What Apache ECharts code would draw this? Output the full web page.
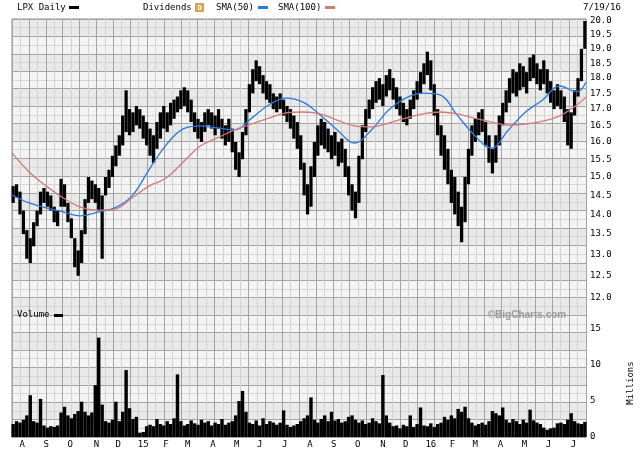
<!DOCTYPE html>
<html><head><meta charset="utf-8">
<script src="https://cdn.jsdelivr.net/npm/echarts@6/dist/echarts.min.js"></script>
<style>html,body{margin:0;padding:0;background:#fff}#c{width:640px;height:453px}</style>
</head><body><div id="c"></div>
<script>
// ---- data ----
const monthDays = [9,30,51,74,93,115,135,154,176,197,217,239,261,282,303,325,345,367,386,406,428,449,470,492];
const monthLabels = ['A','S','O','N','D','15','F','M','A','M','J','J','A','S','O','N','D','16','F','M','A','M','J','J'];
const priceTicks = [12,12.5,13,13.5,14,14.5,15,15.5,16,16.5,17,17.5,18,18.5,19,19.5,20];
const volumeTicks = [0,5,10,15];
const barDays = 3; // trading days per drawn bar
const priceHigh = [
14.75,14.8,14.6,14.1,13.6,13.4,13.8,14.1,14.6,14.7,
14.6,14.5,14.2,14.1,14.95,14.8,14.3,13.9,13.4,13.1,
13.6,14.4,15.0,14.9,14.8,14.7,14.5,15.0,15.2,15.6,
15.9,16.2,16.8,17.6,17.0,16.9,17.1,17.0,16.8,16.6,
16.4,16.2,16.6,16.9,17.1,16.9,17.2,17.3,17.4,17.6,
17.7,17.6,17.3,16.9,16.7,16.6,16.9,17.0,16.9,16.8,
17.0,16.7,16.5,16.7,16.4,16.0,15.7,16.3,17.0,17.8,
18.3,18.6,18.4,18.1,17.9,17.8,17.5,17.4,17.5,17.3,
17.1,17.0,16.8,16.6,16.2,15.4,14.8,15.3,16.0,16.5,
16.7,16.6,16.4,16.2,16.3,16.0,16.1,15.8,15.3,14.8,
14.6,15.6,16.5,17.0,17.3,17.7,17.9,18.0,17.8,18.1,
18.3,18.0,17.7,17.4,17.2,17.0,17.3,17.6,17.9,18.2,
18.5,18.9,18.6,17.8,17.0,16.5,16.2,15.8,15.2,15.0,
14.6,14.2,15.0,15.8,16.5,16.7,16.9,17.0,16.6,16.2,
15.8,16.2,16.8,17.2,17.6,18.0,18.3,18.2,18.5,18.4,
18.2,18.7,18.8,18.5,18.3,18.6,18.3,17.9,17.6,17.8,
17.6,17.4,17.0,16.9,17.6,18.0,19.0,20.0];
const priceLow = [
14.3,14.45,14.0,13.5,12.9,12.8,13.2,13.7,14.0,14.3,
14.2,14.1,13.8,13.7,14.2,14.2,13.8,13.4,12.7,12.5,
12.8,13.5,14.3,14.4,14.3,14.1,12.9,14.5,14.7,15.0,
15.3,15.6,15.9,16.3,16.2,16.3,16.5,16.4,16.1,15.9,
15.6,15.4,15.8,16.1,16.4,16.3,16.5,16.7,16.9,17.0,
17.1,16.9,16.6,16.3,16.1,16.0,16.3,16.5,16.4,16.2,
16.4,16.1,15.9,16.0,15.7,15.2,15.0,15.5,16.2,16.9,
17.5,17.9,17.8,17.5,17.3,17.2,17.0,16.9,17.0,16.8,
16.6,16.4,16.1,15.8,15.2,14.5,14.0,14.2,15.0,15.6,
15.9,15.8,15.7,15.5,15.6,15.3,15.4,15.0,14.5,14.1,
13.9,14.3,15.5,16.3,16.7,17.0,17.2,17.3,17.1,17.4,
17.6,17.3,17.0,16.8,16.6,16.5,16.7,17.0,17.3,17.5,
17.8,18.1,17.6,16.8,16.2,15.6,15.2,14.8,14.3,14.0,
13.7,13.3,13.8,14.8,15.6,16.0,16.2,16.3,15.9,15.4,
15.1,15.4,15.9,16.5,16.9,17.2,17.5,17.4,17.6,17.7,
17.5,17.9,18.0,17.8,17.6,17.8,17.5,17.2,17.0,17.1,
17.0,16.6,15.9,15.8,16.8,17.4,17.9,19.0];
const volume = [
1.8,2.2,2.0,2.4,3.0,5.8,2.2,2.0,5.3,1.6,
1.3,1.5,1.4,1.6,3.4,4.2,3.0,2.6,3.2,3.6,
4.9,3.5,3.0,3.4,7.2,13.8,4.5,2.2,2.0,2.4,
4.9,2.2,3.5,9.3,4.0,2.5,2.8,0.6,0.7,1.5,
1.7,1.5,2.5,1.8,1.6,2.2,1.8,2.6,8.7,2.2,
1.6,1.8,2.3,1.9,1.7,2.4,2.0,2.2,1.6,2.0,
1.8,2.5,1.7,2.0,2.2,3.0,5.0,6.4,3.5,2.0,
1.8,2.3,1.6,2.6,1.8,2.2,2.0,1.7,2.0,3.7,
1.7,1.4,1.6,1.8,2.2,2.6,3.0,5.5,2.4,2.0,
2.5,3.0,2.2,3.5,2.3,2.5,2.0,2.2,2.8,3.0,
2.4,2.0,2.3,1.8,2.0,2.6,2.2,1.9,8.6,3.0,
2.0,1.5,1.6,1.2,1.7,1.5,3.0,1.4,1.8,4.1,
1.6,1.5,1.9,1.4,1.8,2.0,2.8,2.4,3.0,2.6,
3.9,3.5,4.2,2.6,2.0,1.6,1.8,2.0,1.7,2.2,
3.6,3.3,3.0,4.1,2.4,2.0,2.5,2.2,1.8,2.4,
2.0,3.8,2.3,2.0,1.8,1.3,1.0,1.2,1.3,1.9,
2.0,1.8,2.4,3.3,2.2,1.9,1.8,2.1];
const smaDays = [0,15,30,45,60,75,90,105,120,135,150,165,180,195,210,225,240,255,270,285,300,315,330,345,360,375,390,405,420,435,450,465,480,495,503];
const sma50 = [14.51,14.30,14.17,14.06,13.96,14.06,14.17,14.48,15.20,15.91,16.39,16.48,16.42,16.36,16.72,17.13,17.35,17.22,16.82,16.36,15.97,16.36,16.97,17.35,17.51,17.45,16.82,16.21,15.82,16.36,16.91,17.29,17.74,17.55,17.87];
const sma100 = [15.68,15.14,14.75,14.43,14.19,14.11,14.14,14.43,14.75,14.97,15.42,15.88,16.12,16.36,16.54,16.72,16.88,16.91,16.85,16.66,16.48,16.45,16.57,16.72,16.85,16.91,16.85,16.72,16.60,16.51,16.54,16.63,16.79,17.13,17.38];

// ---- chart ----
const FONT = 'DejaVu Sans Mono';
const L = 12, W = 574;
const chart = echarts.init(document.getElementById('c'), null, {renderer:'canvas'});

const priceData = priceHigh.map((h, k) => [k * barDays + 1, h, priceLow[k]]);
const volData = volume.map((v, k) => [k * barDays + 1, v]);

function barRender(isVol, frac) {
  return function (params, api) {
    const x = api.value(0);
    const top = api.value(1);
    const bot = isVol ? 0 : api.value(2);
    const pL = api.coord([x - barDays * frac / 2, top]);
    const pR = api.coord([x + barDays * frac / 2, bot]);
    return {
      type: 'rect',
      shape: {x: pL[0], y: pL[1], width: pR[0] - pL[0], height: Math.max(1, pR[1] - pL[1])},
      style: {fill: '#000'}
    };
  };
}

const hidden = {axisLine:{show:false}, axisTick:{show:false}, axisLabel:{show:false}, splitLine:{show:false}};

const option = {
  animation: false,
  backgroundColor: '#fff',
  grid: [
    {left: L, width: W, top: 19, height: 418, show: true, borderColor: '#8c8c8c', borderWidth: 1, backgroundColor: '#eeeeee'},
    {left: L, width: W, top: 21, height: 277},
    {left: L, width: W, top: 311, height: 126}
  ],
  xAxis: [
    {gridIndex: 0, type: 'value', min: 0, max: 34, interval: 1,
     axisLine:{show:false}, axisTick:{show:false}, axisLabel:{show:false},
     splitLine:{show:true, lineStyle:{color:'#a3a3a3', width:1}},
     minorTick:{show:false, splitNumber:2},
     minorSplitLine:{show:true, lineStyle:{color:'#d2d2d2', width:1}}},
    Object.assign({gridIndex: 1, type: 'value', min: 0, max: 503}, hidden),
    {gridIndex: 2, type: 'value', min: 0, max: 503,
     axisLine:{show:false}, splitLine:{show:false},
     axisTick:{show:false},
     axisLabel:{show:true, customValues: monthDays, margin: 3,
       formatter: v => monthLabels[monthDays.indexOf(v)] || '',
       fontFamily: FONT, fontSize: 9, color: '#000'}}
  ],
  yAxis: [
    {gridIndex: 0, type: 'value', min: 0, max: 24, interval: 1,
     axisLine:{show:false}, axisTick:{show:false}, axisLabel:{show:false},
     splitLine:{show:true, lineStyle:{color:'#a3a3a3', width:1}},
     minorTick:{show:false, splitNumber:2},
     minorSplitLine:{show:true, lineStyle:{color:'#d6d6d6', width:1}},
     splitArea:{show:true, areaStyle:{color:['#f4f4f4','#e9e9e9']}}},
    {gridIndex: 1, type: 'log', logBase: 10, min: 12, max: 20, position: 'right',
     axisLine:{show:false}, splitLine:{show:false},
     axisTick:{show:false, customValues: priceTicks},
     axisLabel:{show:true, customValues: priceTicks, margin: 4,
       formatter: v => Number(v).toFixed(1), fontFamily: FONT, fontSize: 9, color: '#000'}},
    {gridIndex: 2, type: 'value', min: 0, max: 17.5, position: 'right',
     axisLine:{show:false}, splitLine:{show:false},
     axisTick:{show:false, customValues: volumeTicks},
     axisLabel:{show:true, customValues: volumeTicks, margin: 4,
       formatter: v => String(v), fontFamily: FONT, fontSize: 9, color: '#000'}}
  ],
  series: [
    {type: 'custom', name: 'LPX Daily', xAxisIndex: 1, yAxisIndex: 1, renderItem: barRender(false, 0.95), data: priceData, z: 3},
    {type: 'line', name: 'SMA(50)', xAxisIndex: 1, yAxisIndex: 1, data: smaDays.map((d, i) => [d, sma50[i]]),
     symbol: 'none', smooth: 0.4, lineStyle:{color:'#2a78e4', width:1.3}, z: 4},
    {type: 'line', name: 'SMA(100)', xAxisIndex: 1, yAxisIndex: 1, data: smaDays.map((d, i) => [d, sma100[i]]),
     symbol: 'none', smooth: 0.4, lineStyle:{color:'#d47a7a', width:1.3}, z: 4},
    {type: 'custom', name: 'Volume', xAxisIndex: 2, yAxisIndex: 2, renderItem: barRender(true, 1), data: volData, z: 3}
  ],
  graphic: [
    {type:'text', x:17, y:8, style:{text:'LPX Daily', font:'9px ' + FONT, fill:'#000', verticalAlign:'middle'}},
    {type:'rect', shape:{x:69, y:6, width:10, height:3}, style:{fill:'#000'}},
    {type:'text', x:143, y:8, style:{text:'Dividends', font:'9px ' + FONT, fill:'#000', verticalAlign:'middle'}},
    {type:'rect', shape:{x:195, y:3, width:9, height:9}, style:{fill:'#d9a441'}},
    {type:'text', x:199.5, y:8, style:{text:'D', font:'bold 7px ' + FONT, fill:'#fff', align:'center', verticalAlign:'middle'}},
    {type:'text', x:216, y:8, style:{text:'SMA(50)', font:'9px ' + FONT, fill:'#000', verticalAlign:'middle'}},
    {type:'rect', shape:{x:258, y:6, width:10, height:3}, style:{fill:'#2a78e4'}},
    {type:'text', x:278, y:8, style:{text:'SMA(100)', font:'9px ' + FONT, fill:'#000', verticalAlign:'middle'}},
    {type:'rect', shape:{x:325, y:6, width:10, height:3}, style:{fill:'#d47a7a'}},
    {type:'text', x:583, y:8, style:{text:'7/19/16', font:'9px ' + FONT, fill:'#000', verticalAlign:'middle'}},
    {type:'text', x:17, y:315, z: 10, style:{text:'Volume', font:'9px ' + FONT, fill:'#000', verticalAlign:'middle'}},
    {type:'rect', shape:{x:54, y:314, width:9, height:3}, z: 10, style:{fill:'#000'}},
    {type:'text', x:527, y:315, z: 10, style:{text:'\u00A9BigCharts.com', font:'bold 10px Liberation Sans', fill:'#9a9a9a', align:'center', verticalAlign:'middle'}},
    {type:'text', x:631, y:383, rotation: Math.PI / 2, style:{text:'Millions', font:'9px ' + FONT, fill:'#000', align:'center', verticalAlign:'middle'}}
  ]
};
chart.setOption(option);
</script>
</body></html>
